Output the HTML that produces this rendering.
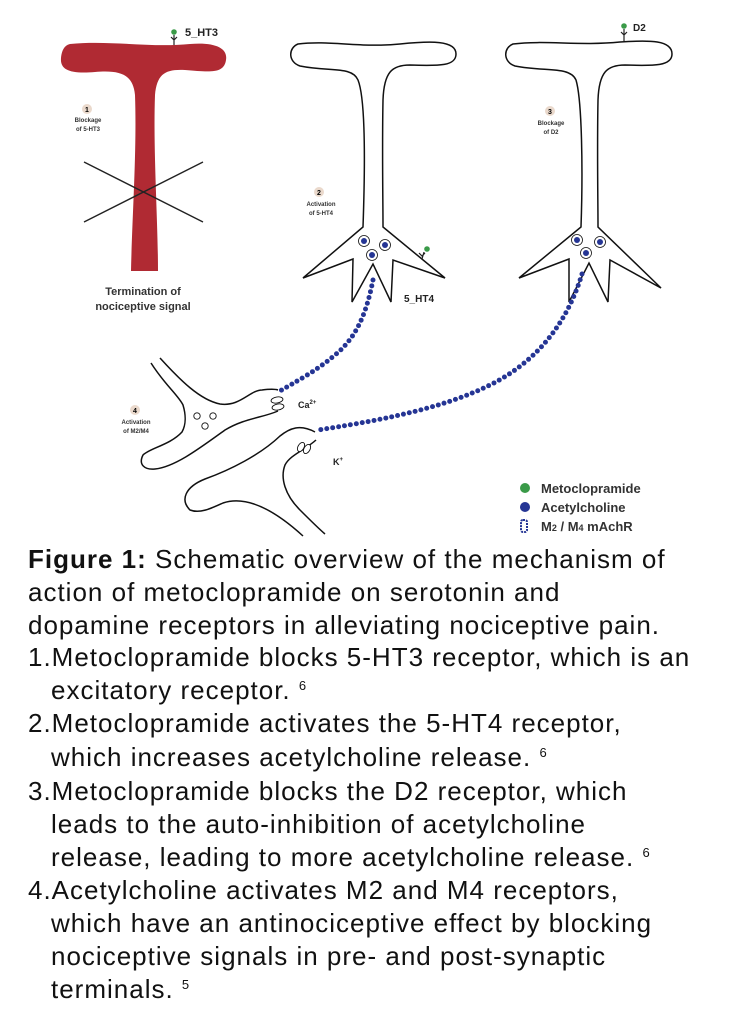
<!DOCTYPE html>
<html><head><meta charset="utf-8"><style>
html,body{margin:0;padding:0;background:#fff;}
#w{position:relative;width:736px;height:1024px;overflow:hidden;background:#fff;}
.c{position:absolute;left:0;font-family:"Liberation Sans",sans-serif;font-size:26px;letter-spacing:1px;color:#111;white-space:nowrap;line-height:33px;}
sup{font-size:13px;vertical-align:9px;line-height:0;letter-spacing:0;}
</style></head><body><div id="w">
<svg width="736" height="545" style="position:absolute;left:0;top:0" font-family="Liberation Sans, sans-serif">
<path d="M70,44 C110,40 150,48 190,44 C215,42 228,48 226,60 C224,74 210,72 185,70 C165,69 157,74 155,95 C153,150 158,220 158,271 L131,271 C132,220 137,150 135,95 C133,74 120,70 95,72 C70,74 60,70 61,58 C62,48 66,45 70,44 Z" fill="#b02a33"/>
<path d="M84,162 L203,222 M84,222 L203,162" stroke="#222" stroke-width="1.4"/>
<circle cx="174" cy="32" r="2.8" fill="#3a9a48"/>
<path d="M174,35 V45 M171,37 L174,40 L177,37" stroke="#222" stroke-width="1.2" fill="none"/>
<text x="185" y="36" font-size="11" font-weight="bold" fill="#222">5_HT3</text>
<circle cx="87" cy="109" r="5" fill="#ead9cc"/><text x="87" y="112" font-size="7" font-weight="bold" text-anchor="middle">1</text>
<text x="88" y="122" font-size="6" font-weight="bold" text-anchor="middle" fill="#333">Blockage</text>
<text x="88" y="131" font-size="6" font-weight="bold" text-anchor="middle" fill="#333">of 5-HT3</text>
<text x="143" y="295" font-size="11" font-weight="bold" text-anchor="middle" fill="#333">Termination of</text>
<text x="143" y="310" font-size="11" font-weight="bold" text-anchor="middle" fill="#333">nociceptive signal</text>
<g fill="none" stroke="#111" stroke-width="1.5">
<path d="M363,227 C365,170 366,100 358,80 C352,66 330,72 300,66 C288,62 288,48 298,44 C330,40 360,48 400,44 C430,41 456,40 456,54 C456,66 440,66 410,65 C392,65 384,72 383,100 C382,150 383,200 383,227 L445,278 L393,260 L391,302 L373,264 L352,302 L353,259 L303,278 Z"/>
<path d="M581,227 C583,170 582,100 576,80 C570,66 545,72 515,66 C503,62 503,48 513,44 C545,40 580,46 620,42 C650,40 672,40 672,54 C672,66 655,66 625,65 C607,65 599,72 598,100 C597,150 598,200 598,227 L661,288 L610,260 L608,302 L589,263 L569,302 L569,259 L519,278 Z"/>
</g>
<g fill="#fff" stroke="#111" stroke-width="0.8">
<circle cx="364" cy="241" r="5.5"/><circle cx="385" cy="245" r="5.5"/><circle cx="372" cy="255" r="5.5"/>
<circle cx="577" cy="240" r="5.5"/><circle cx="600" cy="242" r="5.5"/><circle cx="586" cy="253" r="5.5"/>
</g>
<g fill="#253594">
<circle cx="364" cy="241" r="3"/><circle cx="385" cy="245" r="3"/><circle cx="372" cy="255" r="3"/>
<circle cx="577" cy="240" r="3"/><circle cx="600" cy="242" r="3"/><circle cx="586" cy="253" r="3"/>
</g>
<circle cx="427" cy="249" r="2.8" fill="#3a9a48"/>
<path d="M424,252 L422,259 M419,253 L422,256 L425,253" stroke="#222" stroke-width="1.2" fill="none"/>
<text x="404" y="302" font-size="10" font-weight="bold" fill="#222">5_HT4</text>
<circle cx="319" cy="192" r="5" fill="#ead9cc"/><text x="319" y="195" font-size="7" font-weight="bold" text-anchor="middle">2</text>
<text x="321" y="206" font-size="6" font-weight="bold" text-anchor="middle" fill="#333">Activation</text>
<text x="321" y="215" font-size="6" font-weight="bold" text-anchor="middle" fill="#333">of 5-HT4</text>
<circle cx="624" cy="26" r="2.8" fill="#3a9a48"/>
<path d="M624,29 V41 M621,32 L624,35 L627,32" stroke="#222" stroke-width="1.2" fill="none"/>
<text x="633" y="31" font-size="10" font-weight="bold" fill="#222">D2</text>
<circle cx="550" cy="111" r="5" fill="#ead9cc"/><text x="550" y="114" font-size="7" font-weight="bold" text-anchor="middle">3</text>
<text x="551" y="125" font-size="6" font-weight="bold" text-anchor="middle" fill="#333">Blockage</text>
<text x="551" y="134" font-size="6" font-weight="bold" text-anchor="middle" fill="#333">of D2</text>
<path d="M373,280 C368,305 360,335 335,355 C315,372 295,382 280,391" fill="none" stroke="#253594" stroke-width="5" stroke-linecap="round" stroke-dasharray="0 6"/>
<path d="M582,274 C568,320 540,360 490,385 C440,410 370,422 318,430" fill="none" stroke="#253594" stroke-width="5" stroke-linecap="round" stroke-dasharray="0 6"/>
<g fill="none" stroke="#111" stroke-width="1.5">
<path d="M151,363 C165,385 178,395 183,405 C186,415 186,425 182,432 C170,445 150,448 143,455 C138,465 145,470 155,469 C175,467 200,448 225,430 C245,418 262,418 278,411"/>
<path d="M160,358 C180,380 200,400 220,404 C240,407 250,390 262,390 C270,389 275,389 278,390"/>
<path d="M315,432 C300,424 290,428 280,436 C260,455 230,470 205,479 C185,487 180,500 190,510 C200,514 212,508 223,503 C250,494 280,515 303,536"/>
<path d="M316,440 C305,450 290,455 285,465 C280,478 285,495 300,510 C310,520 318,528 325,534"/>
</g>
<g fill="#fff" stroke="#111" stroke-width="0.9">
<ellipse cx="277" cy="400" rx="6" ry="3" transform="rotate(-10 277 400)"/><ellipse cx="278" cy="407" rx="6" ry="3" transform="rotate(-10 278 407)"/>
<ellipse cx="301" cy="447" rx="3" ry="5" transform="rotate(30 301 447)"/><ellipse cx="307" cy="449" rx="3" ry="5" transform="rotate(30 307 449)"/>
<circle cx="197" cy="416" r="3.2"/><circle cx="213" cy="416" r="3.2"/><circle cx="205" cy="426" r="3.2"/>
</g>
<text x="298" y="408" font-size="9" font-weight="bold" fill="#222">Ca<tspan font-size="6" dy="-4">2+</tspan></text>
<text x="333" y="465" font-size="9" font-weight="bold" fill="#222">K<tspan font-size="6" dy="-4">+</tspan></text>
<circle cx="135" cy="410" r="5" fill="#ead9cc"/><text x="135" y="413" font-size="7" font-weight="bold" text-anchor="middle">4</text>
<text x="136" y="424" font-size="6" font-weight="bold" text-anchor="middle" fill="#333">Activation</text>
<text x="136" y="433" font-size="6" font-weight="bold" text-anchor="middle" fill="#333">of M2/M4</text>
<circle cx="525" cy="488" r="5" fill="#3a9a48"/>
<circle cx="525" cy="507" r="5" fill="#253594"/>
<rect x="521" y="520" width="6" height="12" rx="2" fill="none" stroke="#253594" stroke-width="2" stroke-dasharray="2 1"/>
<g font-size="13" font-weight="bold" fill="#333">
<text x="541" y="493">Metoclopramide</text>
<text x="541" y="512">Acetylcholine</text>
<text x="541" y="531">M<tspan font-size="9">2</tspan> / M<tspan font-size="9">4</tspan> mAchR</text>
</g>
</svg>
<div class="c" style="top:543px;left:28px"><b>Figure 1:</b> Schematic overview of the mechanism of</div>
<div class="c" style="top:576px;left:28px">action of metoclopramide on serotonin and</div>
<div class="c" style="top:609px;left:28px">dopamine receptors in alleviating nociceptive pain.</div>
<div class="c" style="top:641px;left:28px">1.Metoclopramide blocks 5-HT3 receptor, which is an</div>
<div class="c" style="top:674px;left:51px">excitatory receptor. <sup>6</sup></div>
<div class="c" style="top:707px;left:28px">2.Metoclopramide activates the 5-HT4 receptor,</div>
<div class="c" style="top:741px;left:51px">which increases acetylcholine release. <sup>6</sup></div>
<div class="c" style="top:775px;left:28px">3.Metoclopramide blocks the D2 receptor, which</div>
<div class="c" style="top:808px;left:51px">leads to the auto-inhibition of acetylcholine</div>
<div class="c" style="top:841px;left:51px">release, leading to more acetylcholine release. <sup>6</sup></div>
<div class="c" style="top:874px;left:28px">4.Acetylcholine activates M2 and M4 receptors,</div>
<div class="c" style="top:907px;left:51px">which have an antinociceptive effect by blocking</div>
<div class="c" style="top:940px;left:51px">nociceptive signals in pre- and post-synaptic</div>
<div class="c" style="top:973px;left:51px">terminals. <sup>5</sup></div>
</div></body></html>
